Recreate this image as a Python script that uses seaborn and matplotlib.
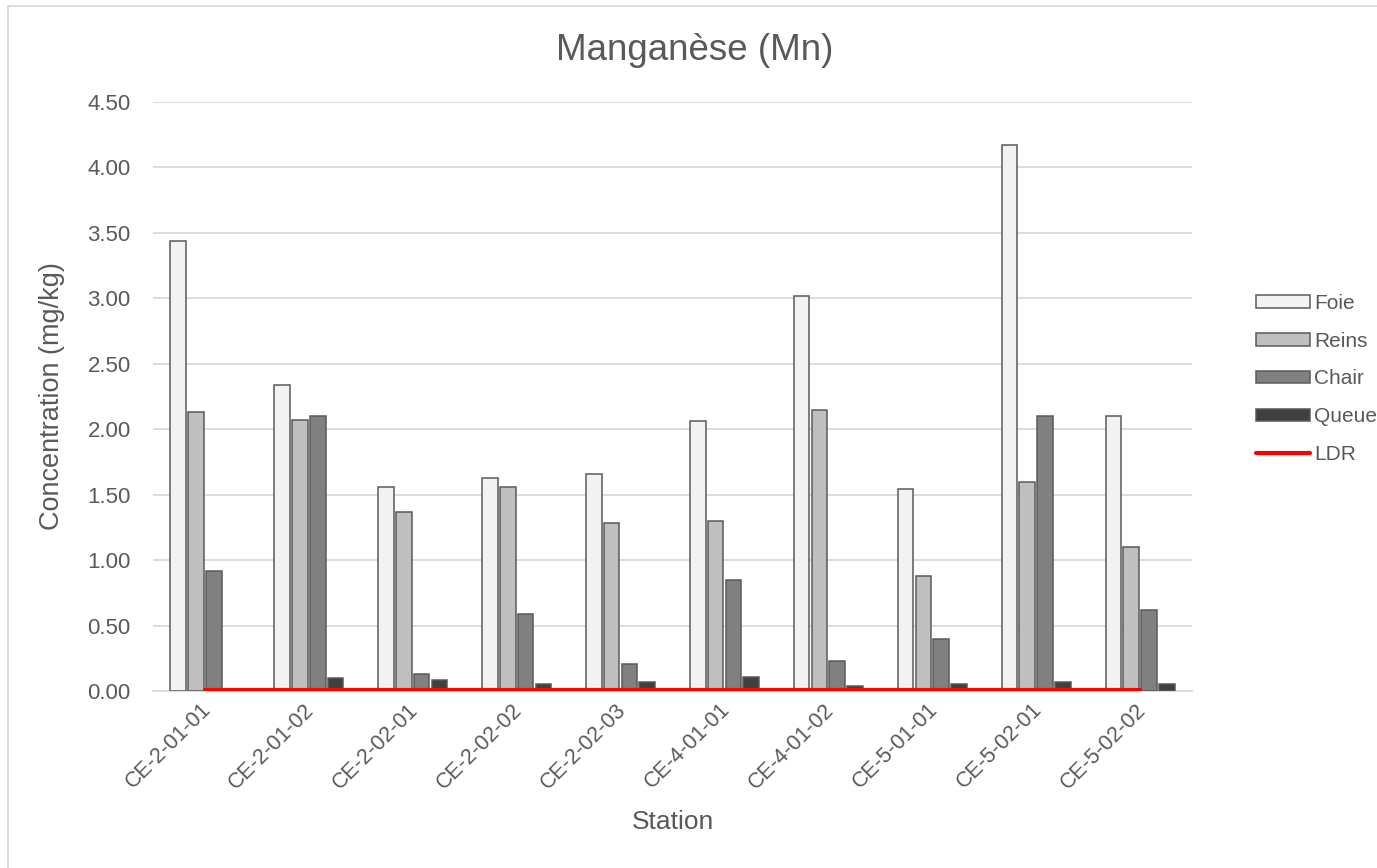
import numpy as np
import pandas as pd
import matplotlib
matplotlib.use('Agg')
import matplotlib.pyplot as plt
import matplotlib.patches as mpatches
import matplotlib.transforms as mtransforms
from matplotlib.lines import Line2D
import seaborn as sns

# Data
stations = ['CE-2-01-01', 'CE-2-01-02', 'CE-2-02-01', 'CE-2-02-02', 'CE-2-02-03',
            'CE-4-01-01', 'CE-4-01-02', 'CE-5-01-01', 'CE-5-02-01', 'CE-5-02-02']
tissues = ['Foie', 'Reins', 'Chair', 'Queue']
foie = [3.44, 2.34, 1.56, 1.63, 1.66, 2.06, 3.02, 1.54, 4.17, 2.10]
reins = [2.13, 2.07, 1.37, 1.56, 1.28, 1.30, 2.15, 0.88, 1.60, 1.10]
chair = [0.92, 2.10, 0.13, 0.59, 0.21, 0.85, 0.23, 0.40, 2.10, 0.62]
queue = [np.nan, 0.10, 0.085, 0.055, 0.07, 0.11, 0.04, 0.055, 0.065, 0.05]
ldr = [0.01] * len(stations)

colors = ['#f2f2f2', '#bfbfbf', '#808080', '#404040']
edge = '#5a5a5a'
text_col = '#595959'
grid_col = '#d9d9d9'

# Long-form table for seaborn
df = pd.DataFrame({
    'Station': stations * 4,
    'Tissu': np.repeat(tissues, len(stations)),
    'Concentration': foie + reins + chair + queue,
})

sns.set_style('white')
plt.rcParams['font.family'] = ['Liberation Sans', 'DejaVu Sans']

fig = plt.figure(figsize=(13.77, 8.68), dpi=100)
ax = fig.add_axes([153 / 1377, 1 - 691 / 868, (1192 - 153) / 1377, (691 - 102) / 868])

sns.barplot(data=df, x='Station', y='Concentration', hue='Tissu', order=stations,
            hue_order=tissues, palette=colors, width=0.685, gap=0.12,
            edgecolor=edge, linewidth=1.1, ax=ax, legend=False, zorder=3)

# LDR line
ax.plot(range(len(stations)), ldr, color='#ff0000', lw=3, zorder=4)

ax.set_xlim(-0.5, len(stations) - 0.5)
ax.set_ylim(0, 4.5)
ax.set_yticks(np.arange(0, 4.51, 0.5))
ax.set_yticklabels([f'{v:.2f}' for v in np.arange(0, 4.51, 0.5)])
ax.yaxis.grid(True, color=grid_col, lw=1.3, zorder=0)
ax.set_axisbelow(True)

for s in ['top', 'right', 'left']:
    ax.spines[s].set_visible(False)
ax.spines['bottom'].set_color(grid_col)
ax.spines['bottom'].set_linewidth(1.3)

ax.set_xticks(range(len(stations)))
ax.set_xticklabels(stations, rotation=45, ha='right', rotation_mode='anchor')
ax.set_xticks(np.arange(-0.5, len(stations)), minor=True)
ax.tick_params(axis='x', which='major', length=0, pad=6, labelsize=15.5, labelcolor=text_col)
ax.tick_params(axis='x', which='minor', length=6, color=grid_col, width=1.3)
ax.tick_params(axis='y', length=0, pad=16, labelsize=16, labelcolor=text_col)
shift = mtransforms.ScaledTranslation(-5 / 100, 0, fig.dpi_scale_trans)
for lab in ax.get_xticklabels():
    lab.set_transform(lab.get_transform() + shift)

ax.set_xlabel('Station', fontsize=19, color=text_col, labelpad=12)
ax.set_ylabel('Concentration (mg/kg)', fontsize=19.5, color=text_col, labelpad=16)

fig.text(695 / 1377, 1 - 50 / 868, 'Manganèse (Mn)', fontsize=26.5,
         color=text_col, ha='center', va='center')

# Legend
handles = [mpatches.Patch(facecolor=c, edgecolor=edge, lw=1.1) for c in colors]
handles.append(Line2D([0], [0], color='#ff0000', lw=3))
fig.legend(handles, tissues + ['LDR'], loc='center left',
           bbox_to_anchor=(1256 / 1377, 1 - 379 / 868), frameon=False,
           fontsize=15, labelcolor=text_col, handlelength=2.6, handleheight=0.55,
           handletextpad=0.2, labelspacing=0.9, borderpad=0, borderaxespad=0)

# Chart border
fig.add_artist(mpatches.Rectangle((8 / 1377, -0.01), 1.0, 1 - 6 / 868 + 0.01,
                                  transform=fig.transFigure, fill=False,
                                  edgecolor=grid_col, lw=1.3))

fig.savefig('out.png', dpi=100)
